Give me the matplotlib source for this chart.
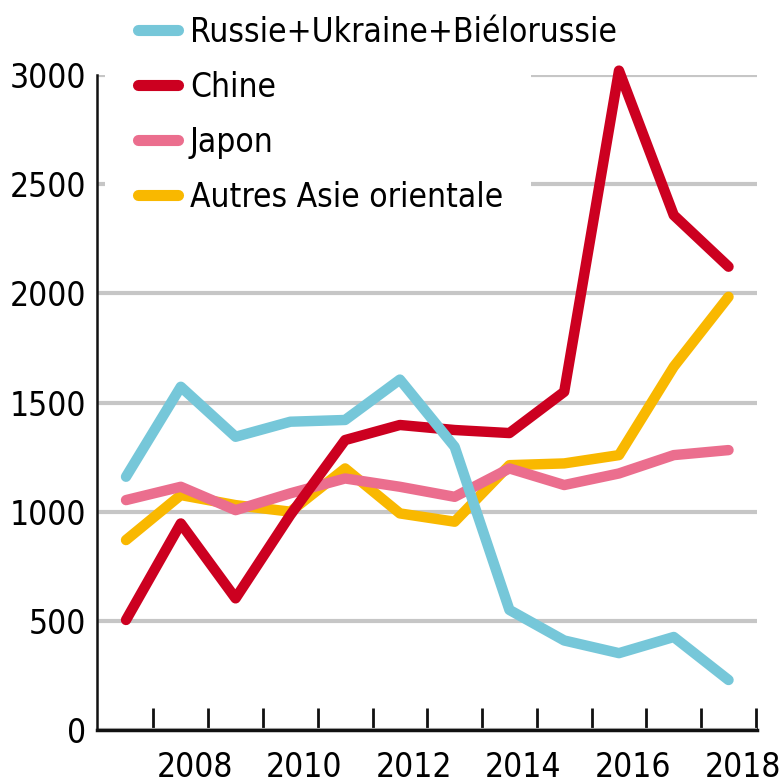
import matplotlib
matplotlib.use("Agg")
import matplotlib.pyplot as plt
import matplotlib.transforms as mtransforms
from matplotlib.lines import Line2D
from matplotlib.patches import Rectangle

plt.rcParams["font.family"] = ["DejaVu Sans"]
plt.rcParams["font.stretch"] = "condensed"

years = [2007, 2008, 2009, 2010, 2011, 2012, 2013, 2014, 2015, 2016, 2017, 2018]
russie = [1160, 1572, 1343, 1412, 1420, 1605, 1297, 550, 410, 352, 426, 229]
chine = [504, 946, 603, 985, 1328, 1397, 1374, 1360, 1549, 3020, 2358, 2122]
japon = [1053, 1114, 1007, 1084, 1152, 1114, 1068, 1198, 1122, 1175, 1259, 1282]
autres = [870, 1076, 1030, 1000, 1198, 992, 954, 1213, 1221, 1259, 1664, 1984]

series_labels = ["Russie+Ukraine+Biélorussie", "Chine", "Japon", "Autres Asie orientale"]
colors = ["#76C7D9", "#CC0020", "#EB6E8E", "#F9B800"]
x_tick_labels = ["2008", "2010", "2012", "2014", "2016", "2018"]
y_ticks = [0, 500, 1000, 1500, 2000, 2500, 3000]

fig = plt.figure(figsize=(7.8, 7.84), dpi=100)
ax = fig.add_axes([97 / 780, 54 / 784, 660 / 780, 655 / 784])

lw = 7.5
line_style = dict(linewidth=lw, solid_capstyle="round", solid_joinstyle="round", clip_on=False)
# draw order: orange, pink, red, blue on top
ax.plot(years, autres, color=colors[3], zorder=3, **line_style)
ax.plot(years, japon, color=colors[2], zorder=4, **line_style)
ax.plot(years, chine, color=colors[1], zorder=5, **line_style)
ax.plot(years, russie, color=colors[0], zorder=6, **line_style)

ax.set_xlim(2006.47, 2018.52)
ax.set_ylim(0, 3000)

# grid
ax.set_yticks(y_ticks)
ax.yaxis.grid(True, color="#C6C6C6", linewidth=3)
ax.set_axisbelow(True)
ax.tick_params(axis="y", length=0, pad=8, labelsize=24)

# white block behind the legend hides the top gridlines
ax.add_patch(Rectangle((0.012, 0.75), 0.645, 0.35, transform=ax.transAxes,
                       facecolor="white", edgecolor="none", zorder=2, clip_on=False))

# x axis: minor ticks between years, labels on even years
ax.set_xticks([y + 0.5 for y in years], minor=True)
ax.set_xticks([int(t) for t in x_tick_labels])
ax.set_xticklabels(x_tick_labels)
ax.tick_params(axis="x", which="minor", direction="in", length=16, width=2, color="#111111")
ax.tick_params(axis="x", which="major", length=0, pad=15, labelsize=24)
offset = mtransforms.ScaledTranslation(14 / 100, 0, fig.dpi_scale_trans)
for lab in ax.get_xticklabels():
    lab.set_transform(lab.get_transform() + offset)

for side in ["top", "right"]:
    ax.spines[side].set_visible(False)
ax.spines["bottom"].set_linewidth(2.5)
ax.spines["left"].set_linewidth(1.8)
ax.spines["bottom"].set_color("#111111")
ax.spines["left"].set_color("#111111")

handles = [Line2D([0], [0], color=c, linewidth=8, solid_capstyle="round") for c in colors]
leg = ax.legend(handles, series_labels, loc="upper left",
                bbox_to_anchor=(108 / 780, 1 + 14 / 784), bbox_transform=fig.transFigure,
                fontsize=24, frameon=False, handlelength=1.2, handletextpad=0.36,
                labelspacing=0.66, borderpad=0.9, borderaxespad=0)
leg.set_zorder(7)

fig.savefig("out.png", dpi=100)
